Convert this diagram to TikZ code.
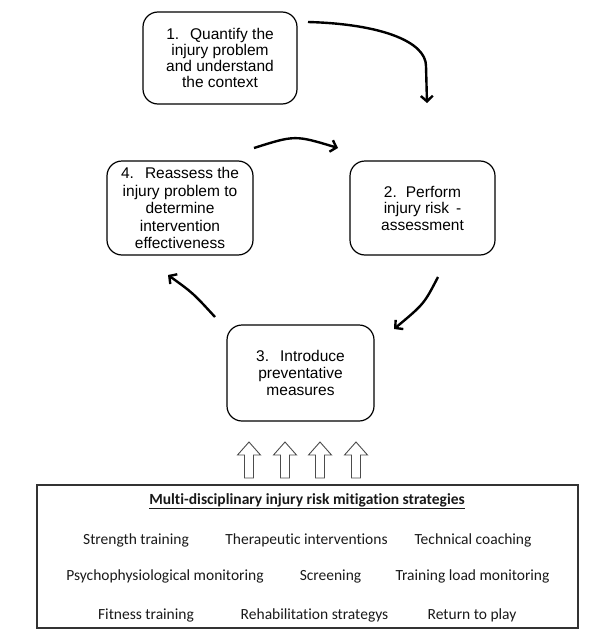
\documentclass[tikz,border=0pt]{standalone}
\usepackage{fontspec}
\newfontfamily\arialf{Liberation Sans}
\newfontfamily\calf[Ligatures={NoCommon}]{Carlito}
\usetikzlibrary{arrows.meta}
\tikzset{
  stepbox/.style={draw, line width=1.2pt, rounded corners=15pt, align=center, inner sep=0pt},
  cyclearrow/.style={line width=2.4pt, -{Straight Barb[length=5.5pt,width=12pt,line width=2.4pt]}},
  hollowarrow/.style={draw=black!70, line width=0.9pt, fill=white},
  stratbox/.style={draw=black!80, line width=1.4pt, inner sep=0pt},
  strat/.style={anchor=base, inner sep=0pt, font=\calf\fontsize{15.5}{18}\selectfont, text=black!90},
}
\begin{document}
\begin{tikzpicture}[x=1pt,y=-1pt]
\useasboundingbox (0,0) rectangle (600,637);
% step boxes
\node[stepbox, minimum width=154pt, minimum height=92pt, font=\arialf\fontsize{15.5}{16}\selectfont] (b1) at (220,58)
  {1.\hspace{11pt}Quantify the\\injury problem\\and understand\\the context};
\node[stepbox, minimum width=145pt, minimum height=94pt, font=\arialf\fontsize{15.5}{16.5}\selectfont] (b2) at (422.5,208)
  {2.\hspace{9pt}Perform\\injury risk \,-\\assessment};
\node[stepbox, minimum width=147pt, minimum height=96pt, font=\arialf\fontsize{15.5}{16.7}\selectfont] (b3) at (300.5,373)
  {3.\hspace{11pt}Introduce\\preventative\\measures};
\node[stepbox, minimum width=146pt, minimum height=94pt, font=\arialf\fontsize{15.5}{17.5}\selectfont] (b4) at (180,208)
  {4.\hspace{11pt}Reassess the\\injury problem to\\determine\\intervention\\effectiveness};
% arrow end points
\coordinate (a1s) at (308,22);
\coordinate (a1e) at (427,103);
\coordinate (a2s) at (438,277);
\coordinate (a2e) at (394,329);
\coordinate (a3s) at (215,317);
\coordinate (a3e) at (168,275);
\coordinate (a4s) at (254,148);
\coordinate (a4e) at (338,148);
\draw[cyclearrow] (a1s) .. controls (382,24) and (426,42) .. (426,66) -- (a1e);
\draw[cyclearrow] (a2s) .. controls (424,304) .. (a2e);
\draw[cyclearrow] (a3s) .. controls (193,293) .. (a3e);
\draw[cyclearrow] (a4s) .. controls (295,135) .. (a4e);
% hollow arrows
\foreach \x in {249,285,320,356}
  \draw[hollowarrow] (\x-4.5,478) -- (\x-4.5,455) -- (\x-11.5,455) -- (\x,442) -- (\x+11.5,455) -- (\x+4.5,455) -- (\x+4.5,478) -- cycle;
% strategies box
\node[stratbox, minimum width=541pt, minimum height=143pt] (sbox) at (307.5,556.5) {};
\node[strat, font=\calf\bfseries\fontsize{15.5}{18}\selectfont] (title) at (307,504) {\underline{Multi-disciplinary injury risk mitigation strategies}};
\node[strat] (s1) at (136,544) {Strength training};
\node[strat] (s2) at (306.5,544) {Therapeutic interventions};
\node[strat] (s3) at (473,544) {Technical coaching};
\node[strat] (s4) at (165,580) {Psychophysiological monitoring};
\node[strat] (s5) at (330.5,580) {Screening};
\node[strat] (s6) at (472.5,580) {Training load monitoring};
\node[strat] (s7) at (146,619) {Fitness training};
\node[strat] (s8) at (314.5,619) {Rehabilitation strategys};
\node[strat] (s9) at (472,619) {Return to play};
\end{tikzpicture}
\end{document}
